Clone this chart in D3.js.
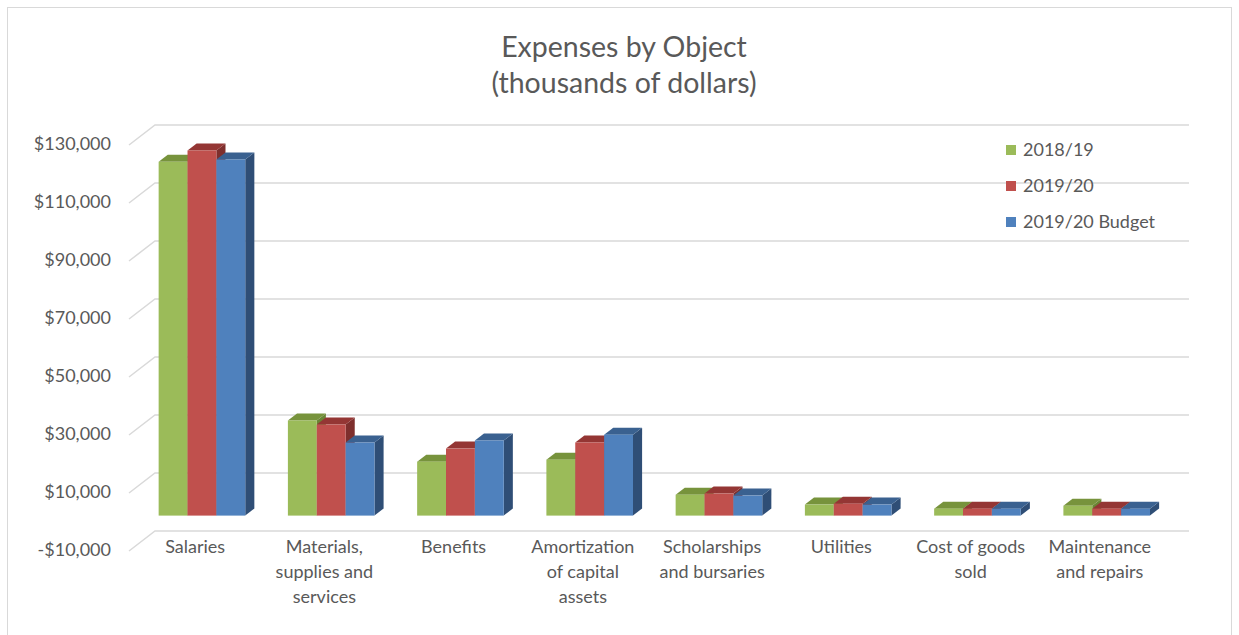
<!DOCTYPE html>
<html>
<head>
<meta charset="utf-8">
<script src="https://cdn.jsdelivr.net/npm/d3@7"></script>
<style>
  html, body { margin: 0; padding: 0; background: #fff; }
  svg { display: block; font-family: Lato, "Open Sans", sans-serif; }
</style>
</head>
<body>
<svg id="chart" width="1239" height="635"></svg>
<script>
// ---- data ----
const categories = [
  "Salaries",
  "Materials,\nsupplies and\nservices",
  "Benefits",
  "Amortization\nof capital\nassets",
  "Scholarships\nand bursaries",
  "Utilities",
  "Cost of goods\nsold",
  "Maintenance\nand repairs"
];
const seriesNames = ["2018/19", "2019/20", "2019/20 Budget"];
const values2018 = [122000, 32800, 18600, 19300, 7200, 3800, 2400, 3400];
const values2019 = [125900, 31400, 23100, 25200, 7600, 4100, 2400, 2400];
const valuesBudget = [122800, 25200, 25900, 27900, 6900, 3800, 2400, 2400];
const yTicks = [-10000, 10000, 30000, 50000, 70000, 90000, 110000, 130000];

const colors = ["#9BBB59", "#C0504D", "#4F81BD"];
const topColors = ["#77933C", "#943634", "#3A6190"];
const sideColors = ["#6A8535", "#7E2F2D", "#2F4E76"];

const svg = d3.select("#chart");

// border
svg.append("rect").attr("x", 7.5).attr("y", 7.5).attr("width", 1224).attr("height", 640)
  .attr("fill", "none").attr("stroke", "#d9d9d9").attr("stroke-width", 1);

// projection
const depthDx = 26, depthDy = -20;
const yBack = d3.scaleLinear().domain([-10000, 130000]).range([531, 125]);
const yFront = v => yBack(v) - depthDy;
const x = d3.scaleBand().domain(d3.range(categories.length)).range([129, 1163]);
const groupW = x.bandwidth() * 0.67;
const f1 = 0.32, f2 = 0.67;

// gridlines (back wall + left side wall diagonal)
const grid = svg.append("g").attr("stroke", "#d9d9d9").attr("stroke-width", 1.5).attr("fill", "none");
yTicks.forEach(t => {
  const yb = yBack(t);
  grid.append("path").attr("d",
    `M${x.range()[0]},${yb - depthDy} L${x.range()[0] + depthDx},${yb} L${x.range()[1] + depthDx},${yb}`);
});

// y labels
svg.append("g").selectAll("text").data(yTicks).join("text")
  .attr("x", 111).attr("y", d => yFront(d))
  .attr("text-anchor", "end").attr("dominant-baseline", "middle")
  .attr("font-size", 18).attr("fill", "#595959")
  .text(d => (d < 0 ? "-$" : "$") + d3.format(",")(Math.abs(d)));

// bars
const seriesVals = [values2018, values2019, valuesBudget];
const bw = groupW / 3;
const barsG = svg.append("g");
categories.forEach((c, i) => {
  const gx = x(i) + (x.bandwidth() - groupW) / 2;
  seriesVals.forEach((vals, s) => {
    const v = vals[i];
    const x0 = gx + s * bw + f1 * depthDx;
    const x1 = x0 + bw;
    const ddx = (f2 - f1) * depthDx, ddy = (f2 - f1) * depthDy;
    const yTop = yFront(v) + f1 * depthDy;
    const yBot = yFront(0) + f1 * depthDy;
    barsG.append("path").attr("fill", sideColors[s])
      .attr("d", `M${x1},${yBot} L${x1},${yTop} L${x1 + ddx},${yTop + ddy} L${x1 + ddx},${yBot + ddy} Z`);
    barsG.append("path").attr("fill", topColors[s])
      .attr("d", `M${x0},${yTop} L${x1},${yTop} L${x1 + ddx},${yTop + ddy} L${x0 + ddx},${yTop + ddy} Z`);
    barsG.append("rect").attr("fill", colors[s])
      .attr("x", x0).attr("y", yTop).attr("width", bw).attr("height", yBot - yTop);
  });
});

// category labels
const catG = svg.append("g").attr("font-size", 18).attr("fill", "#595959").attr("text-anchor", "middle");
categories.forEach((c, i) => {
  const cx = x(i) + x.bandwidth() / 2 + 1.5;
  const t = catG.append("text").attr("x", cx).attr("y", 553);
  c.split("\n").forEach((line, k) => {
    t.append("tspan").attr("x", cx).attr("dy", k === 0 ? 0 : 25).text(line);
  });
});

// title
const title = svg.append("text").attr("x", 624).attr("text-anchor", "middle")
  .attr("font-size", 28.5).attr("fill", "#595959");
title.append("tspan").attr("x", 624).attr("y", 57).text("Expenses by Object");
title.append("tspan").attr("x", 624).attr("y", 93).text("(thousands of dollars)");

// legend
const legend = svg.append("g");
seriesNames.forEach((n, s) => {
  const ly = 150 + s * 36;
  legend.append("rect").attr("x", 1006).attr("y", ly - 5).attr("width", 10).attr("height", 10).attr("fill", colors[s]);
  legend.append("text").attr("x", 1023).attr("y", ly + 1).attr("dominant-baseline", "middle")
    .attr("font-size", 18).attr("fill", "#595959").text(n);
});
</script>
</body>
</html>
